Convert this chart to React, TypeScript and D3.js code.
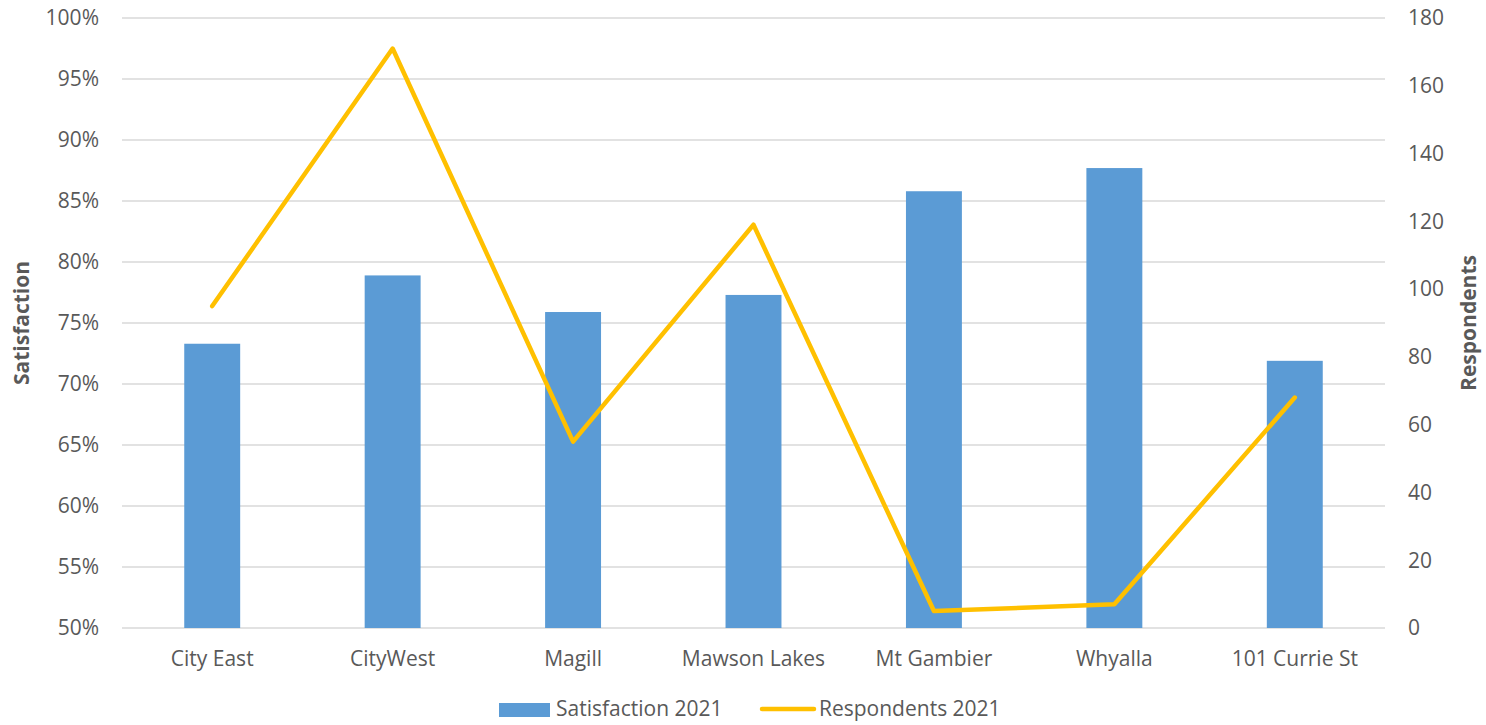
import React from "react";
import * as d3 from "d3";

const categories = ["City East", "CityWest", "Magill", "Mawson Lakes", "Mt Gambier", "Whyalla", "101 Currie St"];
const satisfaction = [0.733, 0.789, 0.759, 0.773, 0.858, 0.877, 0.719];
const respondents = [95, 171, 55, 119, 5, 7, 68];
const leftTicks = [0.5, 0.55, 0.6, 0.65, 0.7, 0.75, 0.8, 0.85, 0.9, 0.95, 1.0];
const rightTicks = [0, 20, 40, 60, 80, 100, 120, 140, 160, 180];

const W = 1486, H = 725;
const left = 122, right = 1385, top = 18, bottom = 628;
const FONT = "'Open Sans', 'Liberation Sans', sans-serif";
const TXT = "#595959";
const FS = 21;
const LY = 709;

export default function App() {
  const x = d3.scaleBand<string>().domain(categories).range([left, right]).paddingInner(0.69).paddingOuter(0.345);
  const xc = (c: string) => (x(c) as number) + x.bandwidth() / 2;
  const yL = d3.scaleLinear().domain([0.5, 1.0]).range([bottom, top]);
  const yR = d3.scaleLinear().domain([0, 180]).range([bottom, top]);
  const line = d3.line<number>().x((_, i) => xc(categories[i])).y((d) => yR(d));
  const fmt = d3.format(".0%");

  return (
    <svg width={W} height={H} style={{ position: "absolute", left: 0, top: 0, background: "#fff" }}>
      <rect width={W} height={H} fill="#fff" />
      {leftTicks.map((t) => (
        <line key={t} x1={left} x2={right} y1={yL(t)} y2={yL(t)} stroke="#D9D9D9" strokeWidth={1.5} />
      ))}
      {leftTicks.map((t) => (
        <text key={"l" + t} x={99} y={yL(t)} dy="0.35em" textAnchor="end" fontSize={FS} fill={TXT} fontFamily={FONT}>
          {fmt(t)}
        </text>
      ))}
      {rightTicks.map((t) => (
        <text key={"r" + t} x={1408} y={yR(t)} dy="0.35em" textAnchor="start" fontSize={FS} fill={TXT} fontFamily={FONT}>
          {t}
        </text>
      ))}
      {categories.map((c, i) => (
        <rect key={c} x={x(c)} y={yL(satisfaction[i])} width={x.bandwidth()} height={bottom - yL(satisfaction[i])} fill="#5B9BD5" />
      ))}
      <path d={line(respondents) || ""} fill="none" stroke="#FFC000" strokeWidth={4.5} strokeLinejoin="round" strokeLinecap="round" />
      {categories.map((c) => (
        <text key={"x" + c} x={xc(c)} y={659} dy="0.35em" textAnchor="middle" fontSize={FS} fill={TXT} fontFamily={FONT}>
          {c}
        </text>
      ))}
      <text transform={`translate(22,${(top + bottom) / 2}) rotate(-90)`} textAnchor="middle" dy="0.35em" fontSize={FS} fontWeight="bold" fill={TXT} fontFamily={FONT}>
        Satisfaction
      </text>
      <text transform={`translate(1469,${(top + bottom) / 2}) rotate(-90)`} textAnchor="middle" dy="0.35em" fontSize={FS} fontWeight="bold" fill={TXT} fontFamily={FONT}>
        Respondents
      </text>
      <rect x={499} y={LY - 6} width={51} height={14} fill="#5B9BD5" />
      <text x={556} y={LY} dy="0.35em" fontSize={FS} fill={TXT} fontFamily={FONT}>Satisfaction 2021</text>
      <line x1={762} x2={814} y1={LY} y2={LY} stroke="#FFC000" strokeWidth={4.5} strokeLinecap="round" />
      <text x={819} y={LY} dy="0.35em" fontSize={FS} fill={TXT} fontFamily={FONT}>Respondents 2021</text>
    </svg>
  );
}
